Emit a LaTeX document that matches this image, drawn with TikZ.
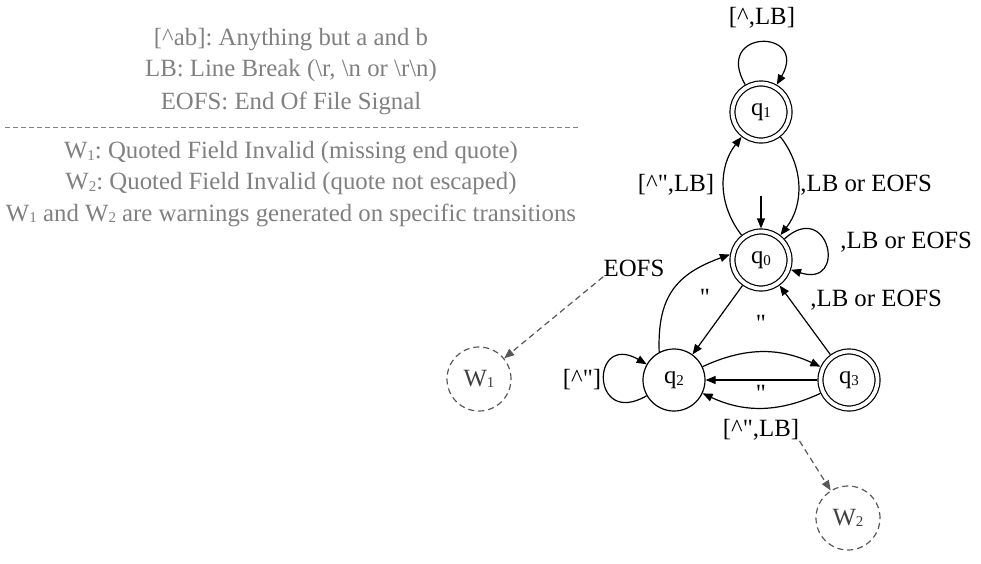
\documentclass[tikz,border=0pt]{standalone}
\usepackage{fontspec}
\setmainfont{Liberation Serif}
\usetikzlibrary{arrows.meta}
\definecolor{legendgray}{RGB}{128,128,128}
\definecolor{warngray}{RGB}{88,88,88}
\newcommand{\idx}[1]{\raisebox{-0.15ex}{\fontsize{7.5}{8}\selectfont #1}}
\newcommand{\qq}{\textquotedbl}
\frenchspacing
\begin{document}
\begin{tikzpicture}[x=0.5pt,y=0.5pt,
  every node/.style={font=\fontsize{12.4}{15.5}\selectfont,inner sep=0pt},
  state/.style={circle,draw,line width=0.6pt,minimum size=31pt},
  accept/.style={circle,draw,line width=0.6pt,double,double distance=1.9pt,minimum size=28.5pt,outer sep=1.55pt},
  warn/.style={circle,draw=warngray,line width=0.6pt,dash pattern=on 3pt off 2pt,minimum size=32pt,text=black!75},
  trans/.style={line width=0.6pt,-{Triangle[length=5pt,width=4pt]}},
  warnarrow/.style={draw=warngray,line width=0.6pt,dash pattern=on 3pt off 2pt,-{Triangle[length=5pt,width=4pt]}},
  legend/.style={text=legendgray}]
\useasboundingbox (0,0) rectangle (981,-563);
\node[legend] (lgAnything) at (291,-40) {[\textasciicircum ab]: Anything but a and b};
\node[legend] (lgLB) at (291,-71) {LB: Line Break (\textbackslash r, \textbackslash n or \textbackslash r\textbackslash n)};
\node[legend] (lgEOFS) at (291,-103) {EOFS: End Of File Signal};
\draw[legendgray,line width=0.5pt,dash pattern=on 2.5pt off 1.5pt] (5,-127) -- (578,-127);
\node[legend] (lgWone) at (291,-153) {W\idx{1}: Quoted Field Invalid (missing end quote)};
\node[legend] (lgWtwo) at (291,-184) {W\idx{2}: Quoted Field Invalid (quote not escaped)};
\node[legend] (lgWboth) at (291,-215) {W\idx{1} and W\idx{2} are warnings generated on specific transitions};
\node[accept] (q1) at (761,-112) {q\idx{1}};
\node[accept] (q0) at (761,-260) {q\idx{0}};
\node[state] (q2) at (674,-380) {q\idx{2}};
\node[accept] (q3) at (849,-380) {q\idx{3}};
\node[warn] (W1) at (479,-379) {W\idx{1}};
\node[warn] (W2) at (848,-518) {W\idx{2}};
\coordinate (init) at (761,-196);
\node (lblLoopA) at (762,-18) {[\textasciicircum,LB]};
\node (lblUp) at (676,-185) {[\textasciicircum\qq,LB]};
\node[anchor=west] (lblDown) at (800,-185) {,LB or EOFS};
\node[anchor=west] (lblLoopB) at (840,-242) {,LB or EOFS};
\node (lblEOFS) at (634,-268) {EOFS};
\node[anchor=west] (lblBack) at (810,-300) {,LB or EOFS};
\node (lblQuoteA) at (705,-297) {\qq};
\node (lblQuoteB) at (761,-323) {\qq};
\node (lblLoopC) at (582,-380) {[\textasciicircum\qq]};
\node (lblQuoteC) at (761,-393) {\qq};
\node (lblOther) at (761,-430) {[\textasciicircum\qq,LB]};
\draw[trans] (q1.120) .. controls +(120:65) and +(60:65) .. (q1.60);
\draw[trans] (q0) to[bend left=38] (q1);
\draw[trans] (q1) to[bend left=38] (q0);
\draw[trans] (init) -- (q0);
\draw[trans] (q0.42) .. controls +(42:60) and +(-18:60) .. (q0.-18);
\draw[trans] (q2.118) to[out=92,in=200,looseness=1.2] (q0.170);
\draw[trans] (q0) -- (q2);
\draw[trans] (q3) -- (q0);
\draw[trans] (q2.210) .. controls +(210:65) and +(150:65) .. (q2.150);
\draw[trans] (q2) to[bend left=25] (q3);
\draw[trans] (q3) -- (q2);
\draw[trans] (q3) to[bend left=25] (q2);
\draw[warnarrow] (lblEOFS.south west) -- (W1);
\draw[warnarrow] (lblOther.south east) -- (W2);
\end{tikzpicture}
\end{document}
